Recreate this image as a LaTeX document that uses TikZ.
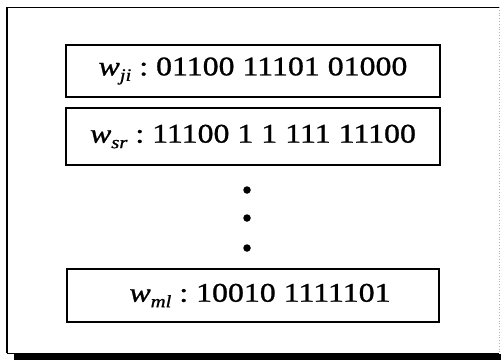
\documentclass[tikz,border=0pt]{standalone}
\usepackage{fontspec}
\setmainfont{Liberation Serif}
\newfontfamily\rowfont{Liberation Serif}[FakeBold=0.9]
\usepackage{graphicx}
% one weight vector: italic w with its index, then the bit string
\newcommand\wrow[2]{\scalebox{1.18}[1]{{\itshape w}\raisebox{-5.5pt}{\fontsize{17.5}{18}\selectfont\itshape #1}\ :\ #2}}
\begin{document}
\begin{tikzpicture}[x=1pt,y=-1pt,
  wordbox/.style={draw=black,line width=1.2pt,inner sep=0pt,
    minimum width=374pt,minimum height=52pt,font=\rowfont\fontsize{27}{30}\selectfont},
  dotmark/.style={circle,fill=black,inner sep=0pt,minimum size=7.5pt}]
  \useasboundingbox (0,0) rectangle (501,362);
  \fill[white] (0,0) rectangle (501,362);
  % outer frame with its drop shadow along the bottom
  \draw[line width=1pt] (499,7) -- (7,7) -- (7,353) -- (499,353);
  \draw[line width=1.5pt] (7,7) -- (7,353);
  \draw[gray!60,dotted,line width=0.8pt] (499,7) -- (499,353);
  \fill[black] (14,354) rectangle (501,360);
  % weight rows
  \node[wordbox] (r1) at (253,71) {\wrow{ji}{01100 11101 01000}};
  \node[wordbox,minimum height=57pt] (r2) at (253,136.5) {\wrow{sr}{11100 1 1 111 11100}};
  \node[dotmark] (d1) at (247,190) {};
  \node[dotmark] (d2) at (247,218) {};
  \node[dotmark] (d3) at (247,248) {};
  \node[wordbox,minimum width=372pt,minimum height=53pt] (r3) at (253,295.5) {\hspace*{14pt}\wrow{ml}{10010 1111101}};
\end{tikzpicture}
\end{document}
